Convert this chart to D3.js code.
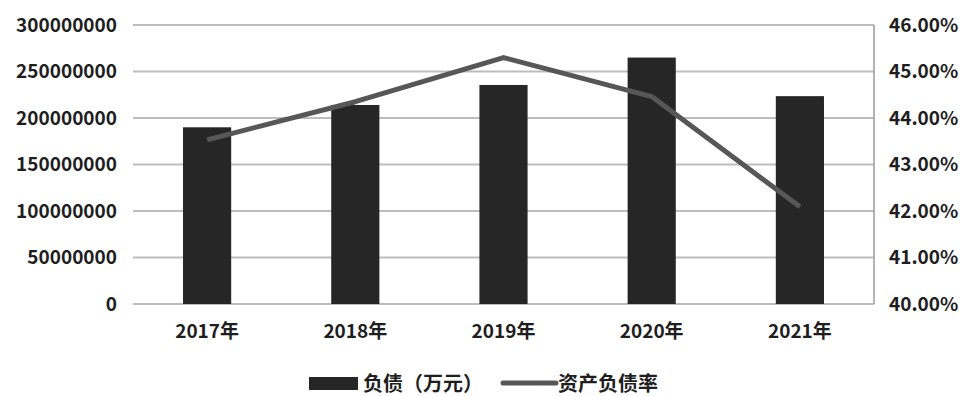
<!DOCTYPE html>
<html><head><meta charset="utf-8">
<script src="https://cdn.jsdelivr.net/npm/d3@7/dist/d3.min.js"></script>
<style>body{margin:0;background:#fff}svg text{font-family:"Noto Sans CJK SC","Noto Sans",sans-serif;fill:#1e1e1e}</style>
</head><body><svg id="c" width="972" height="396"></svg>
<script>
const categories = ["2017年","2018年","2019年","2020年","2021年"];
const debt = [190000000, 214000000, 235500000, 265000000, 223500000];
const ratio = [0.4353, 0.4435, 0.4530, 0.4446, 0.4209];
const leftTicks = [0,50000000,100000000,150000000,200000000,250000000,300000000];
const rightTicks = [0.40,0.41,0.42,0.43,0.44,0.45,0.46];
const legendLabels = ["负债（万元）","资产负债率"];

const svg = d3.select("#c");
const L = 133, R = 874, T = 25, B = 304;
const x = d3.scaleBand().domain(categories).range([L,R]).paddingInner(0.675).paddingOuter(0.3375);
const y = d3.scaleLinear().domain([0,300000000]).range([B,T]);
const y2 = d3.scaleLinear().domain([0.40,0.46]).range([B,T]);

svg.append("g").selectAll("line").data(leftTicks).join("line")
  .attr("x1",L).attr("x2",R).attr("y1",d=>y(d)).attr("y2",d=>y(d))
  .attr("stroke","#bdbdbd").attr("stroke-width",2);
svg.append("line").attr("x1",R).attr("x2",R).attr("y1",T).attr("y2",B).attr("stroke","#9a9a9a").attr("stroke-width",1.5);

const gl = svg.append("g").attr("transform",`translate(${L},0)`)
  .call(d3.axisLeft(y).tickValues(leftTicks).tickFormat(d3.format("d")).tickSize(0).tickPadding(16));
gl.select(".domain").remove();
gl.selectAll("text").attr("font-size",19).style("font-weight",700).attr("fill","#1e1e1e");

const gr = svg.append("g").attr("transform",`translate(${R},0)`)
  .call(d3.axisRight(y2).tickValues(rightTicks).tickFormat(d3.format(".2%")).tickSize(0).tickPadding(15));
gr.select(".domain").remove();
gr.selectAll("text").attr("font-size",19).style("font-weight",700).attr("fill","#1e1e1e");

const gb = svg.append("g").attr("transform",`translate(0,${B})`)
  .call(d3.axisBottom(x).tickSize(0).tickPadding(21));
gb.select(".domain").remove();
gb.selectAll("text").attr("font-size",19).style("font-weight",700).attr("fill","#1e1e1e");

svg.append("g").selectAll("rect").data(debt).join("rect")
  .attr("x",(d,i)=>x(categories[i])).attr("width",x.bandwidth())
  .attr("y",d=>y(d)).attr("height",d=>B-y(d)).attr("fill","#262626");

const line = d3.line().x((d,i)=>x(categories[i])+x.bandwidth()/2).y(d=>y2(d));
svg.append("path").datum(ratio).attr("d",line).attr("fill","none")
  .attr("stroke","#575757").attr("stroke-width",5).attr("stroke-linejoin","round");

const lg = svg.append("g");
lg.append("rect").attr("x",309).attr("y",377).attr("width",49).attr("height",13).attr("fill","#262626");
lg.append("text").attr("x",363).attr("y",384).attr("dy","0.35em").attr("font-size",20).style("font-weight",700).text(legendLabels[0]);
lg.append("line").attr("x1",503).attr("x2",556).attr("y1",383).attr("y2",383).attr("stroke","#575757").attr("stroke-width",5).attr("stroke-linecap","round");
lg.append("text").attr("x",558).attr("y",384).attr("dy","0.35em").attr("font-size",20).style("font-weight",700).text(legendLabels[1]);
</script></body></html>
